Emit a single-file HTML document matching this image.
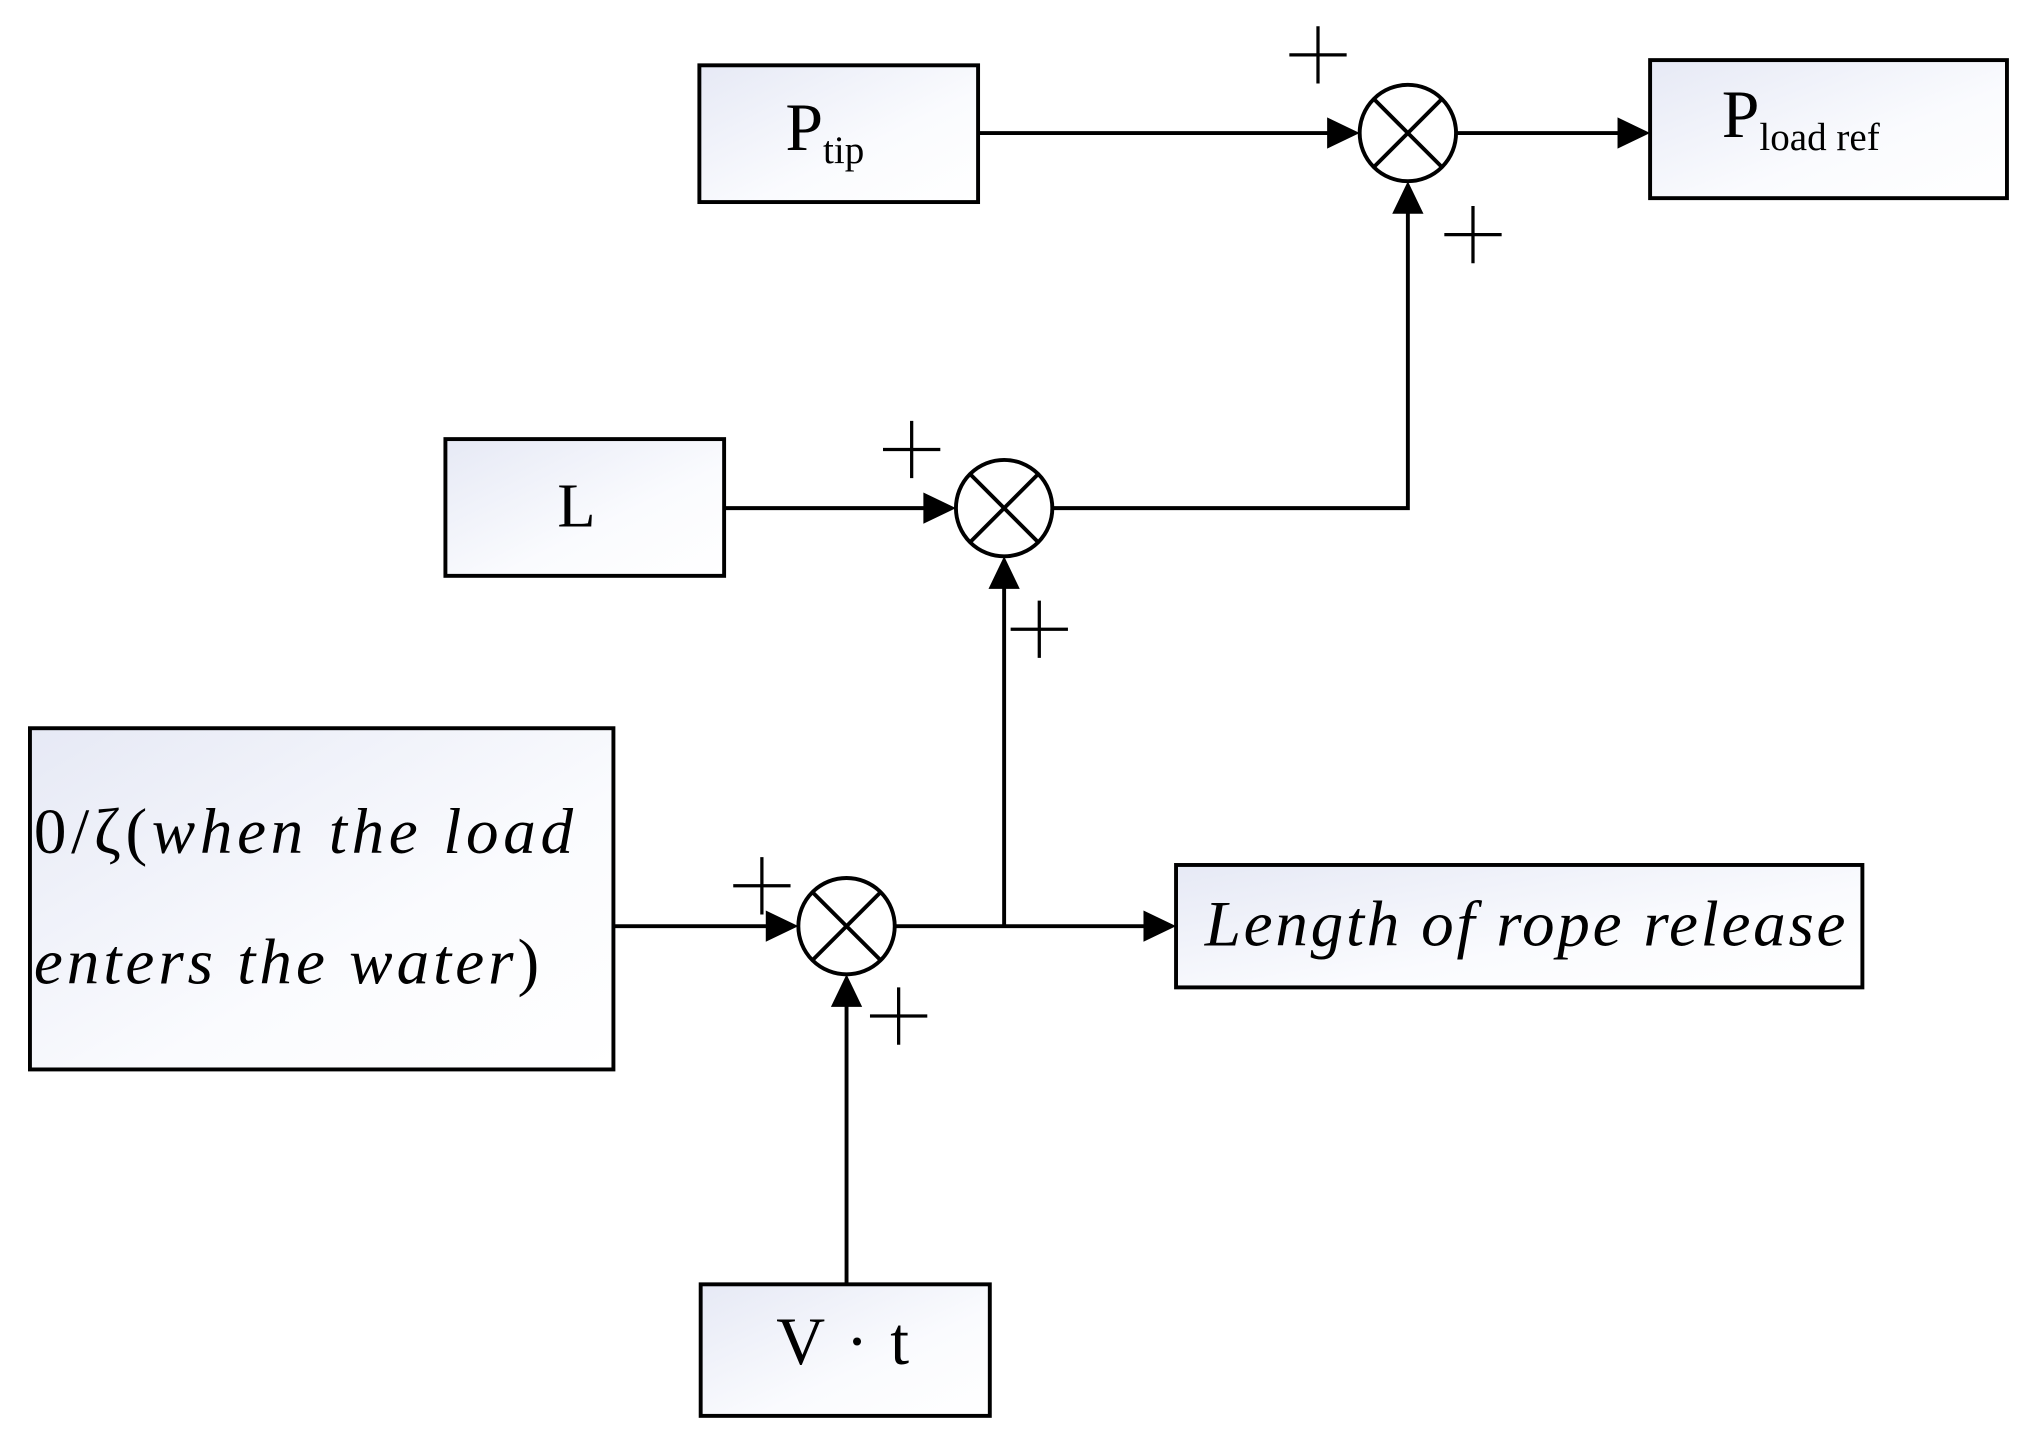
<!DOCTYPE html>
<html><head><meta charset="utf-8"><style>html,body{margin:0;padding:0;background:#fff}svg{display:block}</style></head><body>
<svg width="2033" height="1433" viewBox="0 0 1561 1100" xmlns="http://www.w3.org/2000/svg" font-family="Liberation Serif, serif">
<defs>
<linearGradient id="g" x1="0" y1="0" x2="1" y2="1"><stop offset="0" stop-color="#e6e9f5"/><stop offset="0.6" stop-color="#fafbfe"/><stop offset="1" stop-color="#fff"/></linearGradient>
</defs>
<g stroke="#000" stroke-width="3" fill="url(#g)">
<rect x="537" y="50" width="214" height="105"/>
<rect x="1267" y="46" width="274" height="106"/>
<rect x="342" y="337" width="214" height="105"/>
<rect x="23" y="559" width="448" height="262"/>
<rect x="903" y="664" width="527" height="94"/>
<rect x="538" y="986" width="222" height="101"/>
</g>
<g stroke="#000" stroke-width="3" fill="none">
<circle cx="1081" cy="102" r="37" fill="#fff"/>
<path d="M1055,76 L1107,128 M1107,76 L1055,128"/>
<circle cx="771" cy="390" r="37" fill="#fff"/>
<path d="M745,364 L797,416 M797,364 L745,416"/>
<circle cx="650" cy="711" r="37" fill="#fff"/>
<path d="M624,685 L676,737 M676,685 L624,737"/>
</g>
<g stroke="#000" stroke-width="3" fill="none">
<line x1="751" y1="102" x2="1020" y2="102"/>
<line x1="1118" y1="102" x2="1243" y2="102"/>
<polyline points="808,390 1081,390 1081,163"/>
<line x1="556" y1="390" x2="710" y2="390"/>
<line x1="771" y1="711" x2="771" y2="451"/>
<line x1="471" y1="711" x2="589" y2="711"/>
<line x1="687" y1="711" x2="879" y2="711"/>
<line x1="650" y1="986" x2="650" y2="772"/>
</g>
<g fill="#000">
<path d="M1044,102 L1019,90 L1019,114z"/>
<path d="M1267,102 L1242,90 L1242,114z"/>
<path d="M1081,139 L1069,164 L1093,164z"/>
<path d="M734,390 L709,378 L709,402z"/>
<path d="M771,427 L759,452 L783,452z"/>
<path d="M613,711 L588,699 L588,723z"/>
<path d="M903,711 L878,699 L878,723z"/>
<path d="M650,748 L638,773 L662,773z"/>
</g>
<g stroke="#000" stroke-width="2.5">
<path d="M990,42 h44 M1012,20 v44"/>
<path d="M1109,180 h44 M1131,158 v44"/>
<path d="M678,345 h44 M700,323 v44"/>
<path d="M776,483 h44 M798,461 v44"/>
<path d="M563,680 h44 M585,658 v44"/>
<path d="M668,780 h44 M690,758 v44"/>
</g>
<g fill="#000">
<text x="603" y="115" font-size="52">P<tspan font-size="30" dy="10">tip</tspan></text>
<text x="1322" y="105" font-size="52">P<tspan font-size="30" dy="10">load ref</tspan></text>
<text x="428" y="404" font-size="48">L</text>
<text x="26" y="655" font-size="50" font-style="italic" textLength="414" lengthAdjust="spacing"><tspan font-style="normal">0/ζ(</tspan>when the load</text>
<text x="26" y="755" font-size="50" font-style="italic" textLength="388" lengthAdjust="spacing">enters the water<tspan font-style="normal">)</tspan></text>
<text x="925" y="726" font-size="50" font-style="italic" textLength="492" lengthAdjust="spacing">Length of rope release</text>
<text x="596" y="1047" font-size="52" textLength="102" lengthAdjust="spacing">V · t</text>
</g>
</svg>
</body></html>
